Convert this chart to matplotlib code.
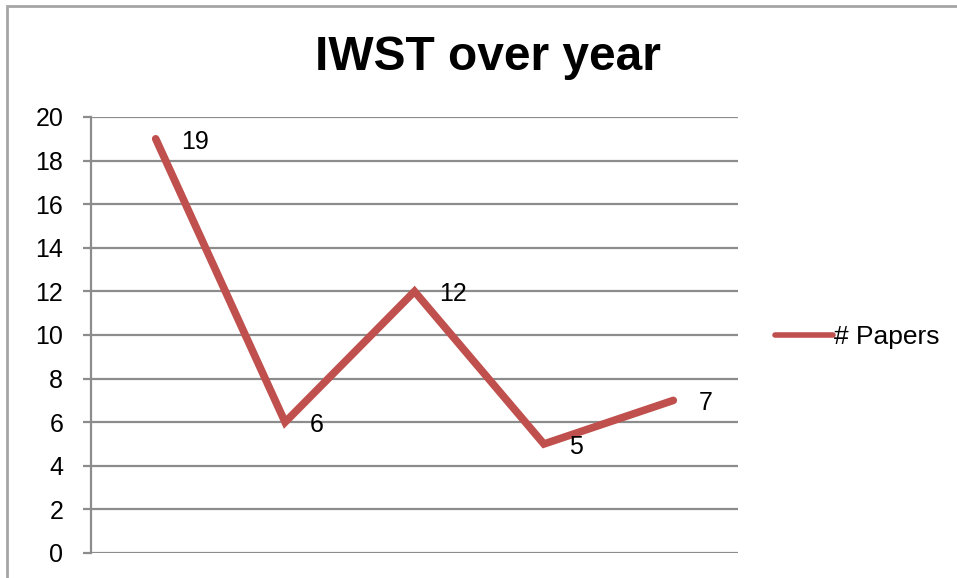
import matplotlib.pyplot as plt
from matplotlib.patches import Rectangle

plt.rcParams['font.family'] = ['Liberation Sans', 'DejaVu Sans']

years = [0, 1, 2, 3, 4]
papers = [19, 6, 12, 5, 7]
yticks = [0, 2, 4, 6, 8, 10, 12, 14, 16, 18, 20]
line_col = '#C0504D'
grid_col = '#8c8c8c'

fig = plt.figure(figsize=(9.57, 5.78), dpi=100)
ax = fig.add_axes([91/957, 25/578, 647/957, 436/578])

ax.plot(years, papers, color=line_col, lw=5.5, solid_capstyle='round',
        solid_joinstyle='miter', label='# Papers', zorder=3)

for x, y in zip(years, papers):
    ax.annotate(str(y), (x, y), xytext=(18, -2), textcoords='offset points',
                ha='left', va='center', fontsize=18)

ax.set_xlim(-0.5, 4.5)
ax.set_ylim(0, 20)
ax.set_yticks(yticks)
ax.set_xticks([])
ax.grid(axis='y', color=grid_col, lw=1.6)
ax.set_axisbelow(True)
for s in ['top', 'right', 'bottom']:
    ax.spines[s].set_visible(False)
ax.spines['left'].set_color(grid_col)
ax.spines['left'].set_linewidth(1.6)
ax.tick_params(axis='y', length=6, width=1.6, color=grid_col, labelsize=18, pad=14)

fig.text(488/957, 1-58/578, 'IWST over year', ha='center', va='center',
         fontsize=34.5, fontweight='bold')

leg = fig.legend(loc='center left', bbox_to_anchor=(775/957, 1-337/578),
                 frameon=False, fontsize=19, handlelength=2.2, handletextpad=0.05,
                 borderpad=0, borderaxespad=0)
for h in leg.get_lines():
    h.set_linewidth(4)

fig.patches.append(Rectangle((7/957, -0.1), 1.2, 1-6/578+0.1, transform=fig.transFigure,
                             fill=False, ec='#a6a6a6', lw=2))

fig.savefig('out.png', dpi=100)
